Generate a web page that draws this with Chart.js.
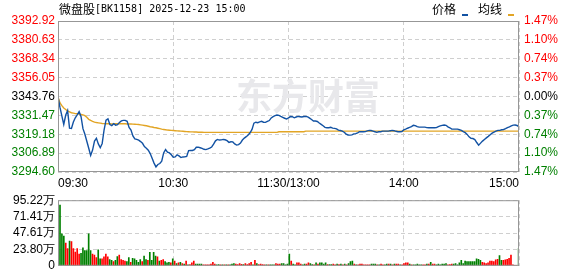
<!DOCTYPE html>
<html>
<head>
<meta charset="utf-8">
<script src="https://cdn.jsdelivr.net/npm/chart.js@4.4.1/dist/chart.umd.min.js"></script>
<style>
body { margin: 0; background: #fff; }
#wrap { position: relative; width: 578px; height: 276px; }
#priceBox { position: absolute; left: 0; top: 0; width: 578px; height: 190px; }
#volBox { position: absolute; left: 0; top: 190px; width: 578px; height: 86px; }
</style>
</head>
<body>
<div id="wrap">
  <div id="priceBox"><canvas id="priceChart"></canvas></div>
  <div id="volBox"><canvas id="volChart"></canvas></div>
</div>
<script>
// données (1 point par minute, 09:30 -> 15:00)
const titleName = '微盘股';
const titleCode = '[BK1158] 2025-12-23 15:00';
const legendNames = ['价格', '均线'];

const prevClose = 3343.76;
const priceTicks = [3294.60, 3306.89, 3319.18, 3331.47, 3343.76, 3356.05, 3368.34, 3380.63, 3392.92];
const priceTickLabels = ['3294.60', '3306.89', '3319.18', '3331.47', '3343.76', '3356.05', '3368.34', '3380.63', '3392.92'];
const pctTickLabels = ['1.47%', '1.10%', '0.74%', '0.37%', '0.00%', '0.37%', '0.74%', '1.10%', '1.47%'];

const timeTicks = [0, 60, 120, 180, 240];
const timeLabels = ['09:30', '10:30', '11:30/13:00', '14:00', '15:00'];

const volTicks = [0, 23.805, 47.61, 71.415, 95.22];
const volTickLabels = ['0', '23.80万', '47.61万', '71.41万', '95.22万'];

const prices = [
  3343.50, 3336.80, 3331.20, 3325.60, 3331.50, 3334.60, 3323.20, 3323.00, 3327.20, 3329.90,
  3331.80, 3333.90, 3330.60, 3322.80, 3319.20, 3314.60, 3310.10, 3305.40, 3308.90, 3314.70,
  3316.50, 3312.90, 3310.40, 3313.20, 3322.10, 3328.40, 3329.20, 3325.50, 3324.80, 3326.00,
  3325.10, 3325.40, 3326.90, 3327.90, 3328.20, 3328.20, 3327.60, 3323.60, 3321.90, 3318.10,
  3316.10, 3315.80, 3315.30, 3314.40, 3313.30, 3311.10, 3310.10, 3308.80, 3306.60, 3303.50,
  3300.40, 3297.90, 3299.50, 3300.10, 3301.60, 3307.00, 3309.20, 3307.50, 3307.00, 3305.80,
  3304.20, 3304.40, 3305.80, 3305.10, 3304.00, 3304.40, 3304.50, 3304.70, 3308.50, 3308.60,
  3308.60, 3309.20, 3310.70, 3310.80, 3310.40, 3310.00, 3309.40, 3309.20, 3309.60, 3310.10,
  3310.90, 3312.70, 3314.90, 3315.80, 3315.40, 3315.50, 3315.80, 3315.60, 3315.00, 3313.90,
  3314.30, 3314.20, 3312.90, 3312.10, 3312.40, 3313.40, 3315.40, 3316.70, 3317.60, 3318.70,
  3320.10, 3322.30, 3326.40, 3327.00, 3326.70, 3327.20, 3327.60, 3327.00, 3326.90, 3327.50,
  3328.10, 3329.80, 3330.70, 3331.30, 3331.70, 3331.50, 3330.80, 3330.20, 3329.60, 3329.10,
  3329.80, 3330.70, 3330.60, 3329.90, 3330.40, 3330.80, 3330.60, 3330.40, 3330.70, 3330.80,
  3330.50, 3329.70, 3328.80, 3327.80, 3327.80, 3327.50, 3326.50, 3325.60, 3324.70, 3323.70,
  3323.40, 3323.40, 3323.70, 3323.20, 3323.00, 3322.70, 3321.90, 3321.60, 3321.20, 3320.50,
  3319.30, 3318.70, 3318.60, 3318.80, 3319.40, 3319.60, 3320.10, 3320.80, 3320.80, 3320.80,
  3320.90, 3321.40, 3321.70, 3321.60, 3321.20, 3320.80, 3320.40, 3320.80, 3320.80, 3321.20,
  3321.20, 3321.20, 3321.20, 3321.50, 3321.70, 3321.50, 3321.10, 3320.80, 3320.80, 3320.90,
  3322.00, 3322.50, 3323.10, 3323.60, 3324.20, 3325.00, 3324.80, 3324.10, 3323.80, 3323.80,
  3323.80, 3323.80, 3323.50, 3323.40, 3323.40, 3323.40, 3323.40, 3323.50, 3324.20, 3324.60,
  3325.00, 3325.20, 3325.00, 3324.00, 3323.40, 3322.50, 3322.50, 3322.50, 3322.50, 3322.10,
  3321.70, 3320.90, 3320.20, 3319.10, 3317.50, 3316.50, 3316.40, 3315.70, 3313.80, 3312.10,
  3313.40, 3314.70, 3315.80, 3316.80, 3317.80, 3318.90, 3319.90, 3320.60, 3321.20, 3321.70,
  3321.70, 3322.10, 3322.30, 3322.80, 3323.50, 3324.00, 3324.60, 3325.10, 3325.20, 3324.90,
  3323.90
];

const avgPrices = [
  3343.50, 3339.70, 3337.80, 3336.30, 3335.30, 3334.40, 3333.80, 3333.20, 3332.90, 3332.60,
  3332.50, 3332.30, 3332.10, 3331.80, 3331.30, 3330.20, 3328.90, 3328.20, 3327.60, 3327.10,
  3326.80, 3326.60, 3326.40, 3326.20, 3326.10, 3326.00, 3326.00, 3326.00, 3325.90, 3326.00,
  3326.00, 3326.00, 3326.00, 3326.00, 3326.00, 3326.00, 3325.90, 3325.90, 3325.90, 3325.80,
  3325.70, 3325.60, 3325.50, 3325.30, 3325.10, 3324.90, 3324.70, 3324.40, 3324.10, 3323.90,
  3323.60, 3323.40, 3323.10, 3322.80, 3322.50, 3322.30, 3322.10, 3321.90, 3321.80, 3321.70,
  3321.60, 3321.50, 3321.40, 3321.30, 3321.20, 3321.10, 3321.00, 3320.90, 3320.80, 3320.70,
  3320.70, 3320.60, 3320.60, 3320.50, 3320.50, 3320.50, 3320.40, 3320.40, 3320.40, 3320.40,
  3320.40, 3320.40, 3320.40, 3320.40, 3320.40, 3320.40, 3320.40, 3320.40, 3320.40, 3320.40,
  3320.40, 3320.40, 3320.40, 3320.40, 3320.40, 3320.40, 3320.40, 3320.40, 3320.40, 3320.40,
  3320.40, 3320.40, 3320.40, 3320.40, 3320.40, 3320.40, 3320.40, 3320.40, 3320.40, 3320.40,
  3320.40, 3320.40, 3320.40, 3320.40, 3320.40, 3320.80, 3320.80, 3320.80, 3320.80, 3320.80,
  3320.80, 3320.80, 3320.80, 3320.80, 3320.80, 3320.80, 3320.80, 3320.80, 3320.80, 3321.20,
  3321.20, 3321.20, 3321.20, 3321.20, 3321.20, 3321.20, 3321.20, 3321.20, 3321.20, 3321.20,
  3321.20, 3321.20, 3321.20, 3321.20, 3321.20, 3321.20, 3321.20, 3321.20, 3321.20, 3321.20,
  3321.20, 3321.20, 3321.20, 3321.20, 3321.20, 3321.20, 3321.20, 3321.20, 3321.20, 3321.20,
  3321.20, 3321.20, 3321.20, 3321.20, 3321.20, 3321.20, 3321.20, 3321.20, 3321.20, 3321.20,
  3321.20, 3321.20, 3321.20, 3321.20, 3321.20, 3321.20, 3321.20, 3321.20, 3321.20, 3321.20,
  3321.20, 3321.20, 3321.20, 3321.20, 3321.20, 3321.20, 3321.20, 3321.20, 3321.20, 3321.20,
  3321.20, 3321.20, 3321.20, 3321.20, 3321.20, 3321.20, 3321.20, 3321.20, 3321.20, 3321.20,
  3321.20, 3321.20, 3321.20, 3321.20, 3321.20, 3321.20, 3321.20, 3321.20, 3321.20, 3321.20,
  3321.20, 3321.20, 3321.20, 3321.20, 3321.20, 3321.20, 3321.20, 3321.20, 3321.20, 3321.20,
  3321.20, 3321.20, 3321.20, 3321.20, 3321.20, 3321.20, 3321.20, 3321.20, 3321.20, 3321.20,
  3321.20, 3321.20, 3321.20, 3321.20, 3321.20, 3321.20, 3321.20, 3321.20, 3321.20, 3321.20,
  3321.20
];

// volume en 万
const volumes = [
  88, 46.5, 43, 32.8, 25, 36, 35, 25, 19.8, 25,
  17, 18, 26, 22, 22, 46.5, 22, 17, 15.5, 12,
  23, 10, 10, 13, 17, 13, 9, 7.8, 6, 7.8,
  13.4, 15.5, 9, 8, 7, 6, 12, 5, 11, 10,
  7.8, 5, 9, 6, 14, 9, 7.8, 19.4, 7.8, 19.4,
  14, 13, 7, 7.8, 9, 6, 4.3, 5, 4.3, 10,
  7, 3.4, 4.3, 5, 3.4, 2.6, 7, 1.3, 1.7, 4.3,
  7, 2.6, 2.6, 2.6, 2.6, 1.3, 1.3, 1.3, 1.3, 2.6,
  5, 2.6, 1.3, 1.7, 1.3, 1.3, 1.3, 1.3, 1.3, 1.3,
  2.6, 3.4, 2.6, 1.7, 3.4, 2.2, 1.7, 3.4, 1.7, 3.4,
  5, 1.3, 7.8, 3.4, 1.7, 2.6, 1.7, 1.3, 1.3, 1.3,
  1.3, 1.3, 1.3, 3.4, 2.6, 2.6, 3.4, 3.4, 1.3, 2.6,
  17, 7, 2.6, 1.3, 4.3, 4.3, 2.6, 1.3, 2.6, 2.6,
  4.3, 3.4, 1.7, 1.3, 4.3, 2.6, 4.3, 4.3, 2.6, 4.3,
  1.7, 1.7, 1.7, 2.6, 1.3, 2.6, 1.7, 2.6, 1.3, 2.6,
  1.3, 3.4, 6, 7, 2.6, 1.3, 1.3, 2.6, 2.6, 1.3,
  1.3, 1.3, 1.3, 2.6, 2.6, 2.6, 1.3, 1.3, 2.6, 1.3,
  1.3, 2.6, 2.6, 2.6, 1.3, 2.6, 2.6, 2.6, 1.3, 1.3,
  3.4, 4.3, 4.3, 2.6, 1.3, 1.3, 1.3, 2.6, 1.3, 1.3,
  1.3, 1.3, 2.6, 2.6, 5, 2.6, 2.6, 1.3, 2.6, 1.3,
  2.6, 2.6, 3.4, 1.3, 1.7, 2.6, 2.6, 3.4, 1.3, 4.3,
  7.8, 3.4, 7, 6, 6, 6, 6, 6, 10, 9.5,
  7.8, 5, 4.3, 3.4, 4.3, 7, 7, 6, 8.6, 9.5,
  14.7, 7.8, 7.8, 8.6, 9.5, 11, 15.5, 1.3, 0, 0,
  25
];

// r = hausse (rouge), g = baisse (vert)
const volDirs = (
  'gggrrgrrrr' + 'rggggggrrr' + 'ggrrrrggrg' + 'grrrrggrgg' + 'gggrggrggg' + 'grgrrgggrg' +
  'rgrgrgrgrr' + 'rggggrrrrr' + 'rrggrgrgrg' + 'ggrrrrgrrr' + 'rgrgrrrrgr' + 'gggrrrgggg' +
  'grggrrrggr' + 'rggrgrgggg' + 'rggrrgrgrg' + 'rgggrgrrrr' + 'rrrgggrgrr' + 'ggrgrgrrgr' +
  'rrrgrggggg' + 'rrgrgrrggg' + 'gggrrrgggg' + 'gggggggggg' + 'grrrrrrrrr' + 'ggrrrrrrrr' +
  'g'
).split('');

const RED = '#ff0000';
const GREEN = '#008000';
const GRID = '#cfcfcf';
const AXIS_FONT = { family: 'Liberation Sans, Arial', size: 12 };

function levelColor(i) {
  if (i > 4) return RED;
  if (i < 4) return GREEN;
  return '#000';
}

// filigrane, titre, légende et cadre
const decorPlugin = {
  id: 'decor',
  beforeDatasetsDraw(chart) {
    if (!chart.options.showHeader) return;
    const ctx = chart.ctx;
    ctx.save();
    ctx.fillStyle = '#e8e8eb';
    ctx.font = 'bold 36px "Noto Sans CJK SC"';
    ctx.textBaseline = 'middle';
    ctx.fillText('东方财富', 236, 96);
    ctx.restore();
  },
  afterDraw(chart) {
    const ctx = chart.ctx;
    const a = chart.chartArea;
    ctx.save();
    ctx.strokeStyle = '#979797';
    ctx.lineWidth = 1;
    ctx.strokeRect(a.left + 0.5, a.top + 0.5, a.right - a.left - 1, a.bottom - a.top - 1);
    if (chart.options.showHeader) {
      ctx.fillStyle = '#000';
      ctx.textBaseline = 'middle';
      ctx.font = '12px "Noto Sans CJK SC"';
      ctx.fillText(titleName, 59, 9);
      ctx.font = '10px "DejaVu Sans Mono"';
      ctx.fillText(titleCode, 95, 9);
      ctx.font = '12px "Noto Sans CJK SC"';
      ctx.fillText(legendNames[0], 432, 9);
      ctx.fillText(legendNames[1], 478, 9);
      ctx.fillStyle = '#1252a3';
      ctx.fillRect(462, 14, 6, 2);
      ctx.fillStyle = '#e2a525';
      ctx.fillRect(508, 14, 6, 2);
    }
    ctx.restore();
  }
};

const priceChart = new Chart(document.getElementById('priceChart'), {
  type: 'line',
  data: {
    datasets: [{
      label: legendNames[0],
      data: prices.map((v, i) => ({ x: i, y: v })),
      borderColor: '#1252a3',
      borderWidth: 1.4,
      pointRadius: 0,
      tension: 0,
      yAxisID: 'y'
    }, {
      label: legendNames[1],
      data: avgPrices.map((v, i) => ({ x: i, y: v })),
      borderColor: '#e2a525',
      borderWidth: 1.4,
      pointRadius: 0,
      tension: 0,
      yAxisID: 'y'
    }]
  },
  options: {
    showHeader: true,
    animation: false,
    responsive: true,
    maintainAspectRatio: false,
    layout: { padding: { top: 21, left: 0, right: 0, bottom: 0 } },
    plugins: { legend: { display: false }, tooltip: { enabled: false } },
    scales: {
      x: {
        type: 'linear', min: 0, max: 240, offset: false,
        afterBuildTicks: s => { s.ticks = timeTicks.map(v => ({ value: v })); },
        afterFit: s => { s.height = 18; },
        ticks: {
          callback: (v, i) => timeLabels[i],
          align: 'inner', autoSkip: false, maxRotation: 0,
          color: '#000', font: AXIS_FONT, padding: 4
        },
        grid: { color: GRID, drawTicks: false },
        border: { display: false, dash: [4, 3] }
      },
      y: {
        position: 'left', min: priceTicks[0], max: priceTicks[8],
        afterBuildTicks: s => { s.ticks = priceTicks.map(v => ({ value: v })); },
        afterFit: s => { s.width = 58; },
        ticks: {
          callback: (v, i) => priceTickLabels[i], autoSkip: false,
          color: c => levelColor(c.index), font: AXIS_FONT, padding: 3
        },
        grid: { color: GRID, drawTicks: false },
        border: { display: false, dash: [4, 3] }
      },
      yPct: {
        position: 'right', min: priceTicks[0], max: priceTicks[8],
        afterBuildTicks: s => { s.ticks = priceTicks.map(v => ({ value: v })); },
        afterFit: s => { s.width = 59; },
        ticks: {
          callback: (v, i) => pctTickLabels[i], autoSkip: false,
          color: c => levelColor(c.index), font: AXIS_FONT, padding: 5
        },
        grid: { display: false, drawTicks: false },
        border: { display: false }
      }
    }
  },
  plugins: [decorPlugin]
});

const volChart = new Chart(document.getElementById('volChart'), {
  type: 'bar',
  data: {
    datasets: [{
      data: volumes.map((v, i) => ({ x: i, y: v })),
      backgroundColor: volDirs.map(d => d === 'r' ? RED : GREEN),
      borderWidth: 0,
      barThickness: 1,
      xAxisID: 'xBar'
    }]
  },
  options: {
    showHeader: false,
    animation: false,
    responsive: true,
    maintainAspectRatio: false,
    layout: { padding: { top: 6, left: 0, right: 59, bottom: 0 } },
    plugins: { legend: { display: false }, tooltip: { enabled: false } },
    scales: {
      x: {
        type: 'linear', min: 0, max: 240, offset: false,
        afterBuildTicks: s => { s.ticks = timeTicks.map(v => ({ value: v })); },
        afterFit: s => { s.height = 6; },
        ticks: { display: false },
        grid: { color: GRID, drawTicks: false, offset: false },
        border: { display: false, dash: [4, 3] }
      },
      // axe caché : les barres commencent un peu après le bord gauche
      xBar: {
        type: 'linear', min: -1.05, max: 240.2, offset: false,
        display: false
      },
      y: {
        position: 'left', min: 0, max: volTicks[4],
        afterBuildTicks: s => { s.ticks = volTicks.map(v => ({ value: v })); },
        afterFit: s => { s.width = 58; },
        ticks: {
          callback: (v, i) => volTickLabels[i], autoSkip: false,
          color: '#000', font: AXIS_FONT, padding: 3
        },
        grid: { color: GRID, drawTicks: false },
        border: { display: false, dash: [4, 3] }
      }
    }
  },
  plugins: [decorPlugin]
});
</script>
</body>
</html>
